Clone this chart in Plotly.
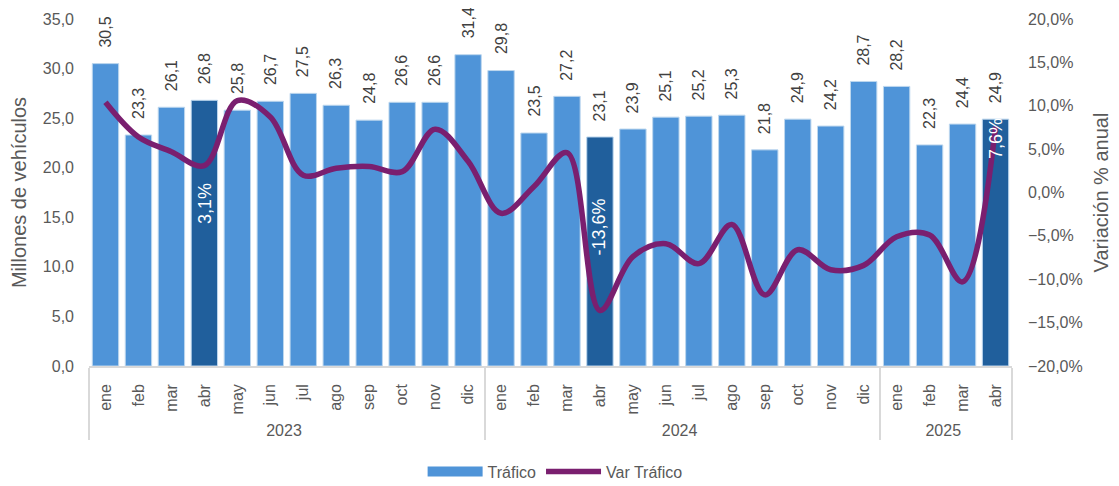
import plotly.graph_objects as go

# ---------------- data ----------------
months = ["ene", "feb", "mar", "abr", "may", "jun", "jul", "ago", "sep", "oct", "nov", "dic",
          "ene", "feb", "mar", "abr", "may", "jun", "jul", "ago", "sep", "oct", "nov", "dic",
          "ene", "feb", "mar", "abr"]
years = ["2023"] * 12 + ["2024"] * 12 + ["2025"] * 4
trafico = [30.5, 23.3, 26.1, 26.8, 25.8, 26.7, 27.5, 26.3, 24.8, 26.6, 26.6, 31.4,
           29.8, 23.5, 27.2, 23.1, 23.9, 25.1, 25.2, 25.3, 21.8, 24.9, 24.2, 28.7,
           28.2, 22.3, 24.4, 24.9]
var_trafico = [10.4, 6.4, 4.7, 3.1, 10.6, 8.7, 2.0, 2.8, 3.0, 2.4, 7.3, 3.6,
               -2.4, 0.7, 4.6, -13.6, -7.4, -5.9, -8.2, -3.7, -11.8, -6.6, -8.9, -8.4,
               -5.1, -4.9, -10.3, 7.6]
highlight_month = "abr"

# ---------------- style ----------------
C_BAR = "#4F94D8"
C_BAR_HI = "#205F9C"
C_LINE = "#7A1F6F"
C_TEXT = "#595959"
FONT = "Liberation Sans, Arial, sans-serif"
pct_label_shift = {3: -38, 15: 84, 27: -12}

bar_colors = [C_BAR_HI if m == highlight_month else C_BAR for m in months]
var_frac = [v / 100 for v in var_trafico]

fig = go.Figure()
fig.add_trace(go.Bar(
    x=[years, months], y=trafico, name="Tráfico", showlegend=False,
    marker=dict(color=bar_colors, line=dict(color="#BDD7EE", width=1)),
))
# legend-only entry giving the wide rectangular swatch for the bars
fig.add_trace(go.Scatter(
    x=[None], y=[None], name="Tráfico", mode="lines",
    line=dict(color=C_BAR, width=11), hoverinfo="skip",
))
fig.add_trace(go.Scatter(
    x=[years, months], y=var_frac, name="Var Tráfico", yaxis="y2",
    mode="lines", line=dict(color=C_LINE, width=5.5, shape="spline", smoothing=1),
))

annotations = []
for i, v in enumerate(trafico):
    annotations.append(dict(
        x=i, y=v, xref="x", yref="y", text=f"{v:.1f}".replace(".", ","),
        textangle=-90, showarrow=False, yanchor="bottom", yshift=14,
        font=dict(family=FONT, size=16, color="#404040"),
    ))
for i, (m, v) in enumerate(zip(months, var_trafico)):
    if m == highlight_month:
        annotations.append(dict(
            x=i, y=v / 100, xref="x", yref="y2", text=f"{v:.1f}%".replace(".", ","),
            textangle=-90, showarrow=False, yshift=pct_label_shift.get(i, 0),
            font=dict(family=FONT, size=18, color="white"),
        ))

# page body adds an 8px offset, so the figure is sized 8px smaller
fig.update_layout(
    width=1111, height=478,
    margin=dict(l=81, r=107, t=11, b=120),
    paper_bgcolor="white", plot_bgcolor="white",
    separators=",.",
    font=dict(family=FONT, size=16, color=C_TEXT),
    bargap=0.2,
    showlegend=True,
    legend=dict(orientation="h", x=0.505, xanchor="center", yref="container",
                y=0.03, yanchor="middle", font=dict(size=16, color=C_TEXT),
                traceorder="normal", itemwidth=55),
    xaxis=dict(type="multicategory", tickangle=-90, showline=True, linecolor="#D9D9D9",
               linewidth=1.5, showdividers=True, dividercolor="#D9D9D9", dividerwidth=1.5,
               ticks="", tickfont=dict(size=16, color=C_TEXT), showgrid=False,
               automargin=False, ticklabelstandoff=10),
    yaxis=dict(range=[0, 35], dtick=5, tickformat=".1f", showgrid=False, zeroline=False,
               ticklabelstandoff=14, automargin=False,
               title=dict(text="Millones de vehículos", font=dict(size=20, color=C_TEXT), standoff=10)),
    yaxis2=dict(range=[-0.2, 0.2], dtick=0.05, tickformat=".1%", overlaying="y", side="right",
                showgrid=False, zeroline=False, ticklabelstandoff=15, automargin=False,
                title=dict(text="Variación % anual", font=dict(size=20, color=C_TEXT), standoff=12)),
    annotations=annotations,
)

fig.write_html("out.html")
